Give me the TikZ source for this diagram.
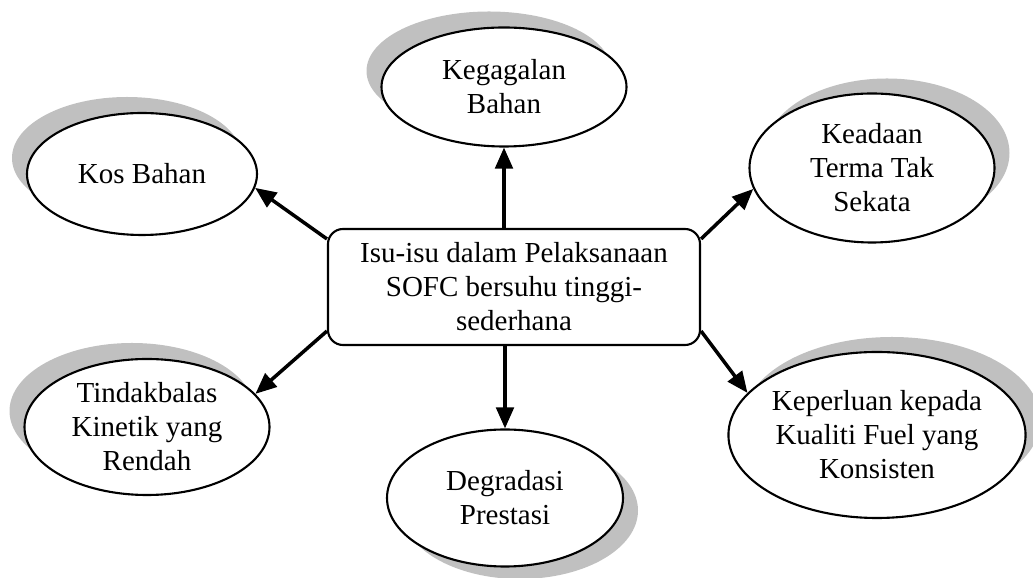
\documentclass[tikz,border=0pt]{standalone}
\usepackage{fontspec}
\setmainfont{Liberation Serif}
\usepackage{tikz}
\usetikzlibrary{shapes, shadows}
\usetikzlibrary{arrows.meta}
\usetikzlibrary{positioning}
\usepackage{xcolor}
\definecolor{shadowgray}{HTML}{C0C0C0}

\tikzset{
  issue/.style={draw, ellipse, line width=1.2pt, fill=white, inner sep=0pt, align=center},
  shadowNW/.style={drop shadow={shadow xshift=-.3cm, shadow yshift=.32cm, fill=shadowgray, opacity=1}},
  shadowNE/.style={drop shadow={shadow xshift=.3cm, shadow yshift=.3cm, fill=shadowgray, opacity=1}},
  shadowSE/.style={drop shadow={shadow xshift=.3cm, shadow yshift=-.25cm, fill=shadowgray, opacity=1}},
  link/.style={-{Triangle[length=12pt, width=10pt]}, line width=2pt}
}

\begin{document}
\begin{tikzpicture}[font=\fontsize{16.5}{19.3}\selectfont]
     \useasboundingbox (0cm, 0cm) rectangle (20.66cm, -11.56cm);
     \node[draw, rounded corners=.3cm, line width=1.2pt, minimum width=7.44cm, minimum height=2.32cm, align=center] (isu) at (10.28cm, -5.74cm)
        {Isu-isu dalam Pelaksanaan\\SOFC bersuhu tinggi-\\sederhana};

     \node[issue, shadowNW, minimum width=4.6cm, minimum height=2.44cm] (kos) at ( 2.84cm, -3.48cm) {Kos Bahan};
     \node[issue, shadowNW, minimum width=4.9cm, minimum height=2.38cm] (gagal) at (10.08cm, -1.74cm) {Kegagalan\\Bahan};
     \node[issue, shadowNE, minimum width=4.9cm, minimum height=2.98cm] (terma) at (17.44cm, -3.36cm) {Keadaan\\Terma Tak\\Sekata};
     \node[issue, shadowNW, minimum width=4.9cm, minimum height=2.72cm] (kinetik) at ( 2.94cm, -8.54cm) {Tindakbalas\\Kinetik yang\\Rendah};
     \node[issue, shadowSE, minimum width=4.72cm, minimum height=2.74cm] (degradasi) at (10.10cm, -9.96cm) {Degradasi\\Prestasi};
     \node[issue, shadowNE, minimum width=5.8cm, minimum height=3.32cm] (fuel) at (17.54cm, -8.70cm) {Keperluan kepada\\Kualiti Fuel yang\\Konsisten};

     \draw[link] ([yshift=-.22cm]isu.north west) -- (kos.-7);
     \draw[link] (gagal |- isu.north) -- (gagal);
     \draw[link] ([yshift=-.22cm]isu.north east) -- (terma.-170);
     \draw[link] ([yshift=.3cm]isu.south west) -- (kinetik.17);
     \draw[link] (degradasi |- isu.south) -- (degradasi);
     \draw[link] ([yshift=.3cm]isu.south east) -- (fuel.162);
\end{tikzpicture}
\end{document}
